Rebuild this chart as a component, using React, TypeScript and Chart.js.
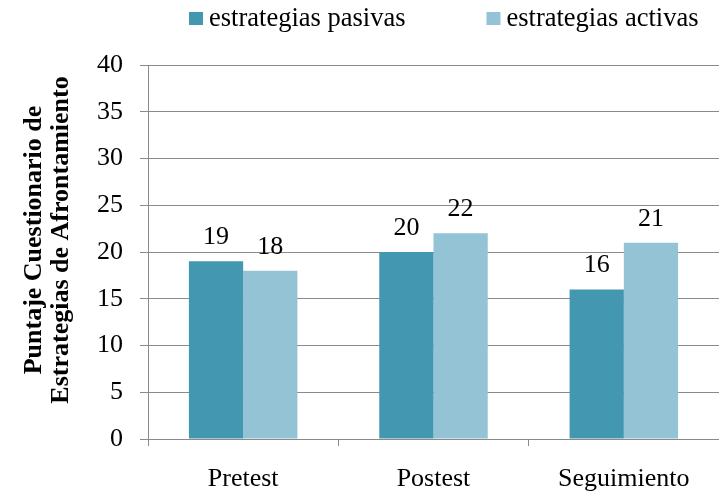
import { useEffect, useRef } from "react";
import { Chart, registerables } from "chart.js";

Chart.register(...registerables);

const categories = ["Pretest", "Postest", "Seguimiento"];
const seriesNames = ["estrategias pasivas", "estrategias activas"];
const pasivas = [19, 20, 16];
const activas = [18, 22, 21];
const yTitleLines = ["Puntaje Cuestionario de", "Estrategias de Afrontamiento"];
const yMin = 0;
const yMax = 40;
const yStep = 5;

const FONT_FAMILY = '"Liberation Serif", "Times New Roman", serif';
const DARK = "#4397B0";
const LIGHT = "#93C3D5";
const GRID = "#8a8a8a";

const valueLabels = {
  id: "valueLabels",
  afterDatasetsDraw(chart: any) {
    const ctx = chart.ctx;
    ctx.save();
    ctx.font = `26px ${FONT_FAMILY}`;
    ctx.fillStyle = "#000";
    ctx.textAlign = "center";
    ctx.textBaseline = "alphabetic";
    chart.data.datasets.forEach((ds: any, i: number) => {
      const meta = chart.getDatasetMeta(i);
      meta.data.forEach((el: any, j: number) => {
        ctx.fillText(String(ds.data[j]), el.x, el.y - 17);
      });
    });
    ctx.restore();
  },
};

const customLegend = {
  id: "customLegend",
  afterDraw(chart: any) {
    const ctx = chart.ctx;
    ctx.save();
    ctx.font = `26.5px ${FONT_FAMILY}`;
    ctx.textBaseline = "middle";
    ctx.textAlign = "left";
    let x = 189;
    const boxW = 14;
    const boxH = 13;
    const boxTop = 12;
    const textY = 19;
    chart.data.datasets.forEach((ds: any) => {
      ctx.fillStyle = ds.backgroundColor;
      ctx.fillRect(x, boxTop, boxW, boxH);
      ctx.fillStyle = "#000";
      const tx = x + boxW + 6;
      ctx.fillText(ds.label, tx, textY);
      x = tx + ctx.measureText(ds.label).width + 81;
    });
    ctx.restore();
  },
};

const yTitle = {
  id: "yTitle",
  afterDraw(chart: any) {
    const ctx = chart.ctx;
    ctx.save();
    ctx.font = `bold 26px ${FONT_FAMILY}`;
    ctx.fillStyle = "#000";
    ctx.textAlign = "center";
    ctx.textBaseline = "middle";
    const xs = [34, 61];
    yTitleLines.forEach((line, i) => {
      ctx.save();
      ctx.translate(xs[i], 240);
      ctx.rotate(-Math.PI / 2);
      ctx.fillText(line, 0, 0);
      ctx.restore();
    });
    ctx.restore();
  },
};

export default function App() {
  const ref = useRef<HTMLCanvasElement | null>(null);

  useEffect(() => {
    if (!ref.current) return;
    const font = { family: FONT_FAMILY, size: 26 };
    const chart = new Chart(ref.current, {
      type: "bar",
      data: {
        labels: categories,
        datasets: [
          {
            label: seriesNames[0],
            data: pasivas,
            backgroundColor: DARK,
            borderWidth: 0,
            categoryPercentage: 0.57,
            barPercentage: 1,
          },
          {
            label: seriesNames[1],
            data: activas,
            backgroundColor: LIGHT,
            borderWidth: 0,
            categoryPercentage: 0.57,
            barPercentage: 1,
          },
        ],
      },
      options: {
        responsive: false,
        animation: false,
        devicePixelRatio: 1,
        layout: { padding: { top: 65, left: 0, right: 0, bottom: 0 } },
        plugins: {
          legend: { display: false },
          tooltip: { enabled: false },
          title: { display: false },
        },
        scales: {
          x: {
            offset: true,
            grid: {
              display: true,
              drawOnChartArea: false,
              drawTicks: true,
              tickLength: 7,
              color: GRID,
              offset: true,
            },
            border: { display: true, color: GRID },
            ticks: { font, color: "#000", padding: 18 },
            afterFit: (s: any) => {
              s.height = 58;
            },
          },
          y: {
            min: yMin,
            max: yMax,
            ticks: { stepSize: yStep, font, color: "#000", padding: 17 },
            grid: { color: GRID, tickLength: 8, drawTicks: true },
            border: { display: true, color: GRID },
            afterFit: (s: any) => {
              s.width = 148;
            },
          },
        },
      },
      plugins: [valueLabels, customLegend, yTitle],
    } as any);
    return () => chart.destroy();
  }, []);

  return (
    <div style={{ position: "fixed", left: 0, top: 0, width: 719, height: 497, background: "#fff" }}>
      <canvas ref={ref} width={719} height={497} style={{ width: 719, height: 497, display: "block" }} />
    </div>
  );
}
